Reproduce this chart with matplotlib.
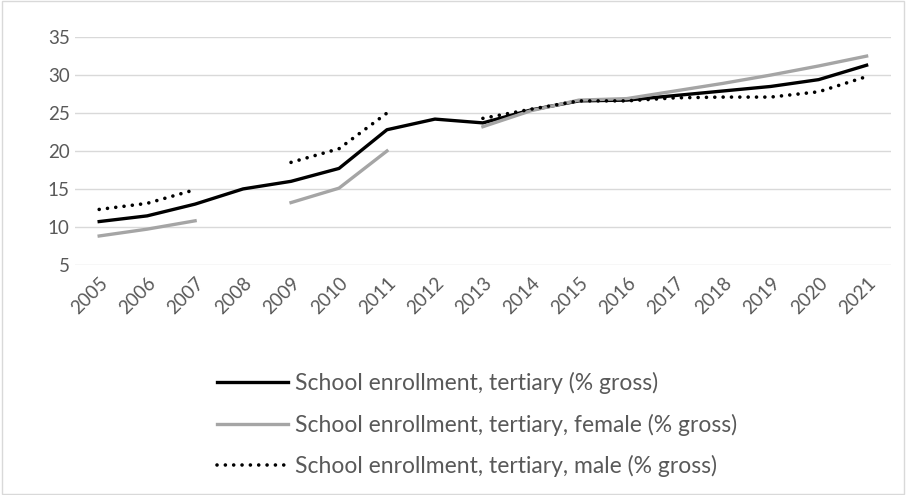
import matplotlib.pyplot as plt
import numpy as np

years = [str(y) for y in range(2005, 2022)]
nan = np.nan
total = [10.7, 11.45, 13.0, 15.0, 16.0, 17.7, 22.8, 24.2, 23.7, 25.4, 26.6, 26.7, 27.3, 27.9, 28.5, 29.4, 31.3]
female = [8.8, 9.7, 10.8, nan, 13.2, 15.1, 20.0, nan, 23.2, 25.3, 26.7, 26.9, 27.9, 28.9, 30.0, 31.2, 32.5]
male = [12.3, 13.1, 14.9, nan, 18.5, 20.3, 25.0, nan, 24.3, 25.5, 26.6, 26.6, 27.0, 27.1, 27.1, 27.8, 29.8]

labels = ['School enrollment, tertiary (% gross)',
          'School enrollment, tertiary, female (% gross)',
          'School enrollment, tertiary, male (% gross)']

plt.rcParams['font.family'] = ['Lato', 'DejaVu Sans']
txt = '#595959'

fig = plt.figure(figsize=(9.06, 4.95), dpi=100)
ax = fig.add_axes([0.083, 0.465, 0.9, 0.46])

x = np.arange(len(years))
ax.plot(x, total, color='black', lw=2.4, label=labels[0])
ax.plot(x, female, color='#a5a5a5', lw=2.4, label=labels[1])
ax.plot(x, male, color='black', lw=2.6, linestyle=(0, (0.01, 2.3)), dash_capstyle='round', label=labels[2])

ax.set_xlim(-0.5, len(years) - 0.5)
ax.set_ylim(5, 35)
ax.set_yticks([5, 10, 15, 20, 25, 30, 35])
ax.set_xticks(x)
ax.set_xticklabels(years, rotation=45, ha='right', rotation_mode='anchor')
ax.grid(axis='y', color='#d9d9d9', lw=1)
ax.set_axisbelow(True)
for s in ax.spines.values():
    s.set_visible(False)
ax.tick_params(axis='y', pad=4)
ax.tick_params(length=0, labelsize=13.5, colors=txt)
ax.tick_params(axis='x', pad=7)

leg = fig.legend(loc='upper left', bbox_to_anchor=(0.24, 0.249), ncol=1, frameon=False,
                 fontsize=16.5, handlelength=3.1, handletextpad=0.3, labelspacing=0.86,
                 borderaxespad=0, borderpad=0)
for t in leg.get_texts():
    t.set_color(txt)

fig.patches.append(plt.Rectangle((0.002, 0.002), 0.996, 0.996, transform=fig.transFigure,
                                 fill=False, edgecolor='#d9d9d9', lw=1))

fig.savefig('out.png', dpi=100)
